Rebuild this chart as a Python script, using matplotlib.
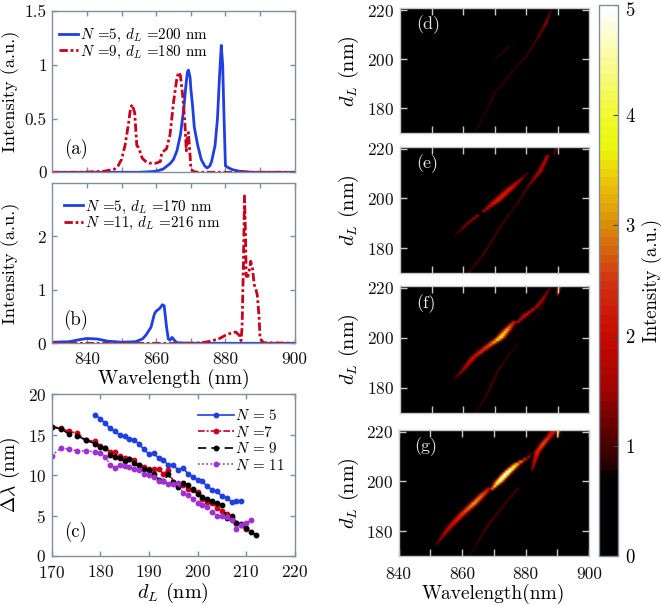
import numpy as np
import matplotlib
matplotlib.use('Agg')
import matplotlib.pyplot as plt
from matplotlib.colors import LinearSegmentedColormap
from matplotlib.transforms import ScaledTranslation

plt.rcParams.update({'font.family': ['cmr10', 'DejaVu Serif'], 'mathtext.fontset': 'cm',
                     'axes.formatter.use_mathtext': True, 'axes.unicode_minus': False})

W, H = 661, 606
BLUE, RED, BLACK, PURPLE = '#1f3fe0', '#c8001e', '#000000', '#a030d0'
EDGE = '#7f8f9f'

# ---- panel (a)
a5_x = [830, 855, 858, 860, 862, 864, 865, 866, 867, 868, 868.5, 869, 869.3, 869.8, 870, 870.5, 871, 872, 873, 874, 874.7, 875.5, 876, 877, 877.7, 878.3, 878.8, 879.2, 879.6, 880, 881, 882, 884, 888, 900]
a5_y = [0, 0, .005, .01, .03, .08, .12, .2, .35, .6, .78, .93, .95, .88, .78, .62, .42, .25, .12, .06, .04, .06, .1, .25, .5, .9, 1.18, 1.0, .5, .06, .04, .025, .01, 0, 0]
a9_x = [830, 838, 840, 845, 848, 849, 850, 851, 852, 852.6, 853.1, 853.8, 854.4, 854.9, 856, 857, 858, 860, 861.2, 861.6, 863, 864, 865, 866, 866.5, 867, 867.7, 868.3, 868.7, 869, 869.3, 869.7, 870, 870.5, 872, 900]
a9_y = [0, 0, .002, .01, .03, .06, .12, .25, .45, .6, .63, .55, .25, .23, .13, .1, .085, .085, .1, .18, .22, .35, .65, .88, .93, .9, .7, .45, .2, .33, .37, .2, .05, .01, 0, 0]
# ---- panel (b)
b5_x = [830, 835, 838, 840, 843, 846, 850, 854, 856, 857, 858.5, 859.5, 860, 861, 861.8, 862.3, 863, 863.5, 864, 864.6, 865.2, 866, 870, 900]
b5_y = [.02, .03, .07, .09, .08, .04, .02, .03, .08, .15, .3, .55, .6, .65, .72, .7, .3, .08, .06, .11, .06, .01, 0, 0]
b11_x = [830, 865, 870, 873, 875, 878, 880, 882, 883, 884, 884.5, 884.8, 885, 885.2, 885.5, 885.8, 886, 886.5, 887, 887.3, 887.8, 888.3, 888.8, 889.2, 889.7, 890, 890.5, 891, 900]
b11_y = [0, 0, .003, .01, .03, .08, .15, .2, .21, .15, .05, .3, .9, 1.5, 2.75, 2.0, 1.25, 1.25, 1.4, 1.53, 1.4, 1.1, 1.0, .9, .5, .1, .05, .01, 0]
# ---- panel (c)
c5_x = list(range(179, 210))
c5_y = [17.4, 17.0, 16.4, 15.8, 15.4, 15.0, 14.8, 14.5, 14.4, 13.8, 13.2, 12.6, 12.7, 12.1, 11.9, 11.2, 11.3, 10.6, 10.9, 10.2, 9.8, 9.4, 9.25, 8.6, 8.2, 8.0, 7.4, 7.2, 6.7, 6.75, 6.75]
c_head_x = [170, 172, 173.5, 175.3, 177, 179]
c7_x = c_head_x + list(range(180, 211))
c7_y = [16, 15.8, 15.4, 15.2, 14.3, 14.2, 13.6, 13.4, 12.9, 12.9, 12.4, 12.1, 12.0, 11.9, 11.2, 11.0, 10.8, 10.7, 10.7, 10.2, 10.6, 9.2, 8.6, 8.8, 8.3, 8.2, 7.9, 7.1, 6.7, 6.6, 5.9, 5.6, 5.2, 4.7, 4.1, 3.8, 3.3]
c9_x = c_head_x + list(range(180, 213))
c9_y = [16, 15.7, 15.1, 14.9, 14.3, 13.9, 13.5, 13.3, 12.5, 12.3, 12.1, 11.7, 12.0, 11.5, 11.2, 10.8, 10.6, 10.2, 9.4, 9.3, 10.1, 9.1, 8.5, 9.0, 8.8, 8.3, 7.7, 7.3, 7.0, 6.8, 6.5, 6.3, 4.7, 5.0, 4.1, 3.9, 3.5, 3.0, 2.6]
c11_x = c_head_x + list(range(180, 212))
c11_y = [12.4, 13.4, 13.2, 13.0, 13.0, 12.9, 12.7, 12.3, 11.3, 10.9, 11.3, 11.1, 11.0, 10.7, 10.6, 10.1, 10.0, 9.8, 9.3, 9.3, 8.9, 8.9, 9.0, 7.8, 7.5, 7.1, 6.5, 6.3, 6.1, 5.4, 5.0, 5.0, 4.8, 4.4, 3.4, 3.8, 4.1, 4.4]

# ---- heat maps: each ridge is a list of (wavelength, d_L, peak intensity, half width in nm)
ridges_d = [
    [(863.8, 170, .9, .4), (870, 186, .97, .5), (877, 197, .97, .5), (880, 201, 1.05, .4), (884, 209, 1.2, .55), (886.5, 215, 1.45, .65), (888, 220, 1.0, .4)],
    [(869.6, 199.5, .88, .5), (873, 203, 1.05, .65), (876, 207, .85, .4)],
]
ridges_e = [
    [(857.5, 185, .85, .6), (861, 189.5, 1.4, .85), (865, 193.5, 1.65, .7)],
    [(866.7, 195, 1.75, .7), (870.7, 199, 2.35, 1.2), (875, 204, 2.25, 1.15), (880.4, 210, 1.1, .5)],
    [(861.7, 170, .95, .7), (866.5, 177.6, 1.02, .85), (872, 189, 1.0, .75), (877, 197.6, .97, .6), (880.2, 204, 1.15, .6), (884.5, 211, 1.8, .8), (887, 217.6, 1.8, .6)],
    [(888.8, 218, 1.2, .35), (890, 221, 1.8, .35)],
]
ridges_f = [
    [(857, 183, .85, .6), (860, 187, 1.6, .8), (863.3, 192, 2.1, .95), (868, 196.5, 2.7, 1.1), (871.7, 199.6, 3.9, 1.1), (874, 203, 3.3, 1.05), (876.5, 206.5, 2.0, .7)],
    [(877, 205.5, 1.9, .6), (880, 209, 2.1, .9), (883.3, 212, 2.0, .6), (885.5, 215.5, 1.8, .5), (887.6, 219.5, 1.2, .4)],
    [(863.8, 170, .9, .5), (867, 176, .97, .7), (870.7, 185.6, 1.0, .75), (874, 192, .97, .6), (877, 197, .95, .35)],
    [(882.3, 207, .85, .5), (884.5, 211, 1.0, .7), (886.5, 215.6, .88, .5)],
    [(890, 217, 1.8, .25), (890.4, 219, 2.6, .4), (891, 221, 3.0, .4)],
]
ridges_g = [
    [(852, 175, 1.2, .6), (856.2, 182, 2.0, .95), (860, 187, 2.6, 1.05), (863.6, 191.2, 3.3, 1.05), (866.5, 195, 2.8, 1.0), (868.5, 197.5, 2.1, .55)],
    [(869.3, 197, 3.0, .55), (871.5, 200, 4.6, 1.0), (874, 203.5, 5.2, 1.0), (877, 207, 3.5, 1.0), (880.3, 209.5, 2.2, .55), (881.5, 211, 1.2, .3)],
    [(862, 170, .88, .6), (865, 176, .95, .7), (867.7, 182, 1.05, .85), (872, 189, 1.0, .75), (877.2, 197, 1.05, .6)],
    [(881.8, 204.5, 1.5, .4), (883.5, 212, 2.4, .85), (885.5, 215.5, 2.8, .85), (887.5, 218.5, 2.2, .95), (889, 221, 2.1, 1.2)],
    [(890, 218, 2.5, .25), (890.2, 221, 4.6, .35)],
]
panel_ridges = [ridges_d, ridges_e, ridges_f, ridges_g]
panel_names = ['(d)', '(e)', '(f)', '(g)']

cb_vals = [0, .7, .8, 1, 1.5, 2, 2.5, 3, 3.4, 3.7, 4, 4.5, 5]
cb_cols = ['#000000', '#000000', '#280000', '#4a0000', '#a00500', '#c80a00', '#d03214', '#d88c0a', '#ecc30a', '#ecf50a', '#f0fa28', '#fafa96', '#ffffff']
hot = LinearSegmentedColormap.from_list('g', [(v / 5, c) for v, c in zip(cb_vals, cb_cols)], N=64)


def axes_px(x0, y0, x1, y1):
    return fig.add_axes([x0 / W, 1 - y1 / H, (x1 - x0) / W, (y1 - y0) / H])


def style(ax, col=EDGE, length=3.5, xpad=6):
    for s in ax.spines.values():
        s.set_color(col)
        s.set_linewidth(1.0)
    ax.tick_params(direction='in', top=True, right=True, color=col, width=1.0, length=length,
                   labelsize=12.5, pad=4, labelcolor='#111111')
    ax.tick_params(axis='x', pad=xpad)


def ylab_at(ax, text, x_px, size):
    ax.set_ylabel(text, fontsize=size)
    box = ax.get_position()
    x = (x_px / W - box.x0) / box.width
    ax.yaxis.set_label_coords(x, .5)


def raster(ridges):
    wl = np.arange(840, 900.01, 0.5)
    dl = np.arange(170, 221.01, 1.0)
    Z = np.zeros((dl.size, wl.size))
    for r in ridges:
        r = np.array(r)
        for i, d in enumerate(dl):
            if d < r[:, 1].min() or d > r[:, 1].max():
                continue
            c = np.interp(d, r[:, 1], r[:, 0])
            p = np.interp(d, r[:, 1], r[:, 2])
            s = np.interp(d, r[:, 1], r[:, 3])
            Z[i] = np.maximum(Z[i], p * np.exp(-.5 * ((wl - c) / s) ** 2))
    return wl, dl, Z


fig = plt.figure(figsize=(W / 100, H / 100), dpi=100)
lg = dict(frameon=False, fontsize=10.8, handlelength=1.25, handletextpad=.15, labelspacing=-.05, borderaxespad=0, borderpad=0)

# (a)
ax = axes_px(52.3, 11, 294.7, 172.3)
ax.plot(a5_x, a5_y, color=BLUE, lw=2.0, label=r'$N$ =5, $d_L$ =200 nm')
ax.plot(a9_x, a9_y, color=RED, lw=2.0, dashes=(3, 1, 1, 1), label=r'$N$ =9, $d_L$ =180 nm')
ax.set_xlim(830, 900); ax.set_ylim(0, 1.5)
ax.set_xticks(range(840, 900, 10)); ax.set_xticklabels([])
ax.set_yticks([0, .5, 1, 1.5]); ax.set_yticklabels(['0', '0.5', '1', '1.5'])
ylab_at(ax, 'Intensity (a.u.)', 20, 13.2)
style(ax)
ax.legend(loc='upper left', bbox_to_anchor=(.027, .9), **lg)
ax.text(.05, .142, '(a)', transform=ax.transAxes, fontsize=13.5, va='center')

# (b)
ax = axes_px(52.3, 182.5, 294.7, 343.3)
ax.plot(b5_x, b5_y, color=BLUE, lw=2.0, label=r'$N$ =5, $d_L$ =170 nm')
ax.plot(b11_x, b11_y, color=RED, lw=2.0, dashes=(3, 1, 1, 1), label=r'$N$ =11, $d_L$ =216 nm')
ax.set_xlim(830, 900); ax.set_ylim(0, 3)
ax.set_xticks(range(840, 901, 10)); ax.set_xticklabels(['840', '', '860', '', '880', '', '900'])
ax.set_yticks([0, 1, 2])
ax.set_xlabel('Wavelength (nm)', fontsize=14.2, labelpad=1)
ylab_at(ax, 'Intensity (a.u.)', 20, 13.2)
style(ax)
ax.legend(loc='upper left', bbox_to_anchor=(.048, .9), **lg)
ax.text(.045, .145, '(b)', transform=ax.transAxes, fontsize=13.5, va='center')

# (c)
ax = axes_px(51.7, 394.3, 294.7, 556)
ax.plot(c5_x, c5_y, color=BLUE, lw=1.2, marker='o', ms=3.2, label=r'$N$ = 5')
ax.plot(c7_x, c7_y, color=RED, lw=1.2, dashes=(4, 1.2, 1.2, 1.2), marker='o', ms=3.2, label=r'$N$ =7')
ax.plot(c9_x, c9_y, color=BLACK, lw=1.2, dashes=(5, 3), marker='o', ms=3.2, label=r'$N$ = 9')
ax.plot(c11_x, c11_y, color=PURPLE, lw=1.2, dashes=(1, 1.5), marker='o', ms=3.2, label=r'$N$ = 11')
ax.set_xlim(170, 220); ax.set_ylim(0, 20)
ax.set_xticks(range(170, 221, 10)); ax.set_yticks(range(0, 21, 5))
ax.set_xlabel(r'$d_L$ (nm)', fontsize=14.5, labelpad=0)
ylab_at(ax, r'$\Delta\lambda$ (nm)', 22, 14)
style(ax)
ax.legend(frameon=False, fontsize=10.8, handlelength=2.4, handletextpad=.12, labelspacing=.1,
          loc='upper left', bbox_to_anchor=(.6, .915), borderaxespad=0, borderpad=0)
ax.text(.05, .15, '(c)', transform=ax.transAxes, fontsize=13.5, va='center')

# (d)-(g)
boxes = [(400, 8.3, 589, 133), (400, 147, 589, 273), (400, 286, 589, 413), (398.5, 430, 589, 556)]
for i, (box, ridges, name) in enumerate(zip(boxes, panel_ridges, panel_names)):
    ax = axes_px(*box)
    wl, dl, Z = raster(ridges)
    im = ax.imshow(Z, origin='lower', aspect='auto', cmap=hot, vmin=0, vmax=5, interpolation='bilinear',
                   extent=[wl[0] - .25, wl[-1] + .25, dl[0] - .5, dl[-1] + .5])
    ax.set_xlim(840, 900); ax.set_ylim(170, 220.7)
    ax.set_xticks(range(850, 900, 10) if i < 3 else range(840, 901, 10))
    ax.set_yticks([180, 200, 220])
    if i < 3:
        ax.set_xticklabels([])
    else:
        ax.set_xticklabels(['840', '', '860', '', '880', '', '900'])
        ax.set_xlabel('Wavelength(nm)', fontsize=14, labelpad=1)
    ylab_at(ax, r'$d_L$ (nm)', 361, 14.5)
    style(ax, col='#c8c8c8', length=5, xpad=8)
    ax.text(.085, .865, name, transform=ax.transAxes, fontsize=13, color='#e8e8e8', va='center')

# colourbar
cax = axes_px(598.5, 5, 618.3, 556)
cb = fig.colorbar(im, cax=cax)
cb.set_ticks(range(0, 6))
cb.outline.set_edgecolor(EDGE)
cb.outline.set_linewidth(1.0)
cax.tick_params(direction='in', color='#444444', length=3.5, width=.8, labelsize=13.5, pad=5)
cb.set_label('Intensity (a.u.)', fontsize=13.5, labelpad=4)
top = cax.get_yticklabels()[-1]
top.set_transform(top.get_transform() + ScaledTranslation(0, -3 / 72, fig.dpi_scale_trans))

fig.savefig('out.png', dpi=100)
